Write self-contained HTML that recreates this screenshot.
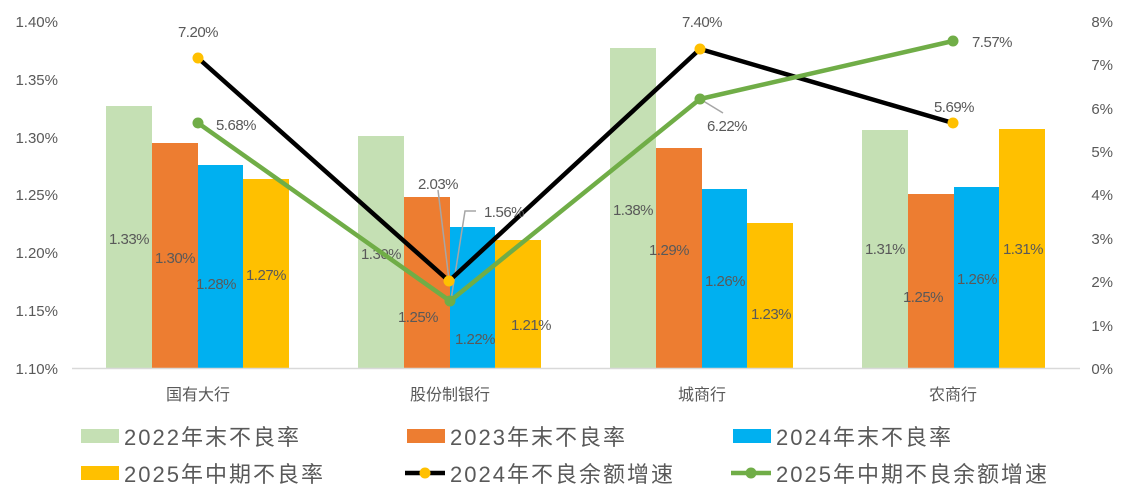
<!DOCTYPE html>
<html><head><meta charset="utf-8"><style>
body{margin:0;background:#fff}
svg{display:block}
text{font-family:"Liberation Sans","Noto Sans CJK SC",sans-serif;fill:#595959}
.t{font-size:15px}
.d{font-size:15px;fill:#404040;letter-spacing:-0.5px}
.c{font-size:16px;fill:#404040}
.l{font-size:22px;fill:#595959;letter-spacing:2px}
</style></head><body>
<svg width="1127" height="504" viewBox="0 0 1127 504">
<g class="t" text-anchor="end">
<text x="58" y="27">1.40%</text>
<text x="58" y="85">1.35%</text>
<text x="58" y="143">1.30%</text>
<text x="58" y="200">1.25%</text>
<text x="58" y="258">1.20%</text>
<text x="58" y="316">1.15%</text>
<text x="58" y="374">1.10%</text>
</g>
<g class="t" text-anchor="end">
<text x="1113" y="27">8%</text>
<text x="1113" y="70">7%</text>
<text x="1113" y="114">6%</text>
<text x="1113" y="157">5%</text>
<text x="1113" y="200">4%</text>
<text x="1113" y="244">3%</text>
<text x="1113" y="287">2%</text>
<text x="1113" y="331">1%</text>
<text x="1113" y="374">0%</text>
</g>
<g>
<rect x="106" y="106" width="46" height="263" fill="#c5e0b4"/>
<rect x="152" y="143" width="46" height="226" fill="#ed7d31"/>
<rect x="198" y="165" width="45" height="204" fill="#00b0f0"/>
<rect x="243" y="179" width="46" height="190" fill="#ffc000"/>

<rect x="358" y="136" width="46" height="233" fill="#c5e0b4"/>
<rect x="404" y="197" width="46" height="172" fill="#ed7d31"/>
<rect x="450" y="227" width="45" height="142" fill="#00b0f0"/>
<rect x="495" y="240" width="46" height="129" fill="#ffc000"/>

<rect x="610" y="48" width="46" height="321" fill="#c5e0b4"/>
<rect x="656" y="148" width="46" height="221" fill="#ed7d31"/>
<rect x="702" y="189" width="45" height="180" fill="#00b0f0"/>
<rect x="747" y="223" width="46" height="146" fill="#ffc000"/>

<rect x="862" y="130" width="46" height="239" fill="#c5e0b4"/>
<rect x="908" y="194" width="46" height="175" fill="#ed7d31"/>
<rect x="954" y="187" width="45" height="182" fill="#00b0f0"/>
<rect x="999" y="129" width="46" height="240" fill="#ffc000"/>
</g>
<line x1="72" y1="368.5" x2="1080" y2="368.5" stroke="#d9d9d9" stroke-width="1.5"/>
<g class="d" text-anchor="middle">
<text x="129" y="244">1.33%</text>
<text x="175" y="263">1.30%</text>
<text x="216" y="289">1.28%</text>
<text x="266" y="280">1.27%</text>
<text x="381" y="259">1.30%</text>
<text x="418" y="322">1.25%</text>
<text x="475" y="344">1.22%</text>
<text x="531" y="330">1.21%</text>
<text x="633" y="215">1.38%</text>
<text x="669" y="255">1.29%</text>
<text x="725" y="286">1.26%</text>
<text x="771" y="319">1.23%</text>
<text x="885" y="254">1.31%</text>
<text x="923" y="302">1.25%</text>
<text x="977" y="284">1.26%</text>
<text x="1023" y="254">1.31%</text>
</g>
<line x1="438" y1="190" x2="449" y2="280" stroke="#a6a6a6" stroke-width="1.5"/>
<polyline points="476,211 465,211 451,300" fill="none" stroke="#a6a6a6" stroke-width="1.5"/>
<line x1="700" y1="99" x2="723" y2="113" stroke="#a6a6a6" stroke-width="1.5"/>
<polyline points="198,58 449,281 700,49 953,123" fill="none" stroke="#000" stroke-width="4.5"/>
<polyline points="198,123 450,301 700,99 953,41" fill="none" stroke="#70ad47" stroke-width="4.5"/>
<g fill="#ffc000"><circle cx="198" cy="58" r="5.5"/><circle cx="449" cy="281" r="5.5"/><circle cx="700" cy="49" r="5.5"/><circle cx="953" cy="123" r="5.5"/></g>
<g fill="#70ad47"><circle cx="198" cy="123" r="5.5"/><circle cx="450" cy="301" r="5.5"/><circle cx="700" cy="99" r="5.5"/><circle cx="953" cy="41" r="5.5"/></g>
<g class="d" text-anchor="middle">
<text x="198" y="37">7.20%</text>
<text x="236" y="130">5.68%</text>
<text x="438" y="189">2.03%</text>
<text x="504" y="217">1.56%</text>
<text x="702" y="27">7.40%</text>
<text x="727" y="131">6.22%</text>
<text x="954" y="112">5.69%</text>
<text x="992" y="47">7.57%</text>
</g>
<g class="c" text-anchor="middle">
<text x="198" y="400">国有大行</text>
<text x="450" y="400">股份制银行</text>
<text x="702" y="400">城商行</text>
<text x="953" y="400">农商行</text>
</g>
<rect x="81" y="429" width="38" height="14" fill="#c5e0b4"/>
<text class="l" x="124" y="445">2022年末不良率</text>
<rect x="407" y="429" width="38" height="14" fill="#ed7d31"/>
<text class="l" x="450" y="445">2023年末不良率</text>
<rect x="733" y="429" width="38" height="14" fill="#00b0f0"/>
<text class="l" x="776" y="445">2024年末不良率</text>
<rect x="81" y="466" width="38" height="14" fill="#ffc000"/>
<text class="l" x="124" y="482">2025年中期不良率</text>
<line x1="405" y1="473" x2="445" y2="473" stroke="#000" stroke-width="4.5"/>
<circle cx="425" cy="473" r="5.5" fill="#ffc000"/>
<text class="l" x="450" y="482">2024年不良余额增速</text>
<line x1="731" y1="473" x2="771" y2="473" stroke="#70ad47" stroke-width="4.5"/>
<circle cx="751" cy="473" r="5.5" fill="#70ad47"/>
<text class="l" x="776" y="482">2025年中期不良余额增速</text>
</svg>
</body></html>
